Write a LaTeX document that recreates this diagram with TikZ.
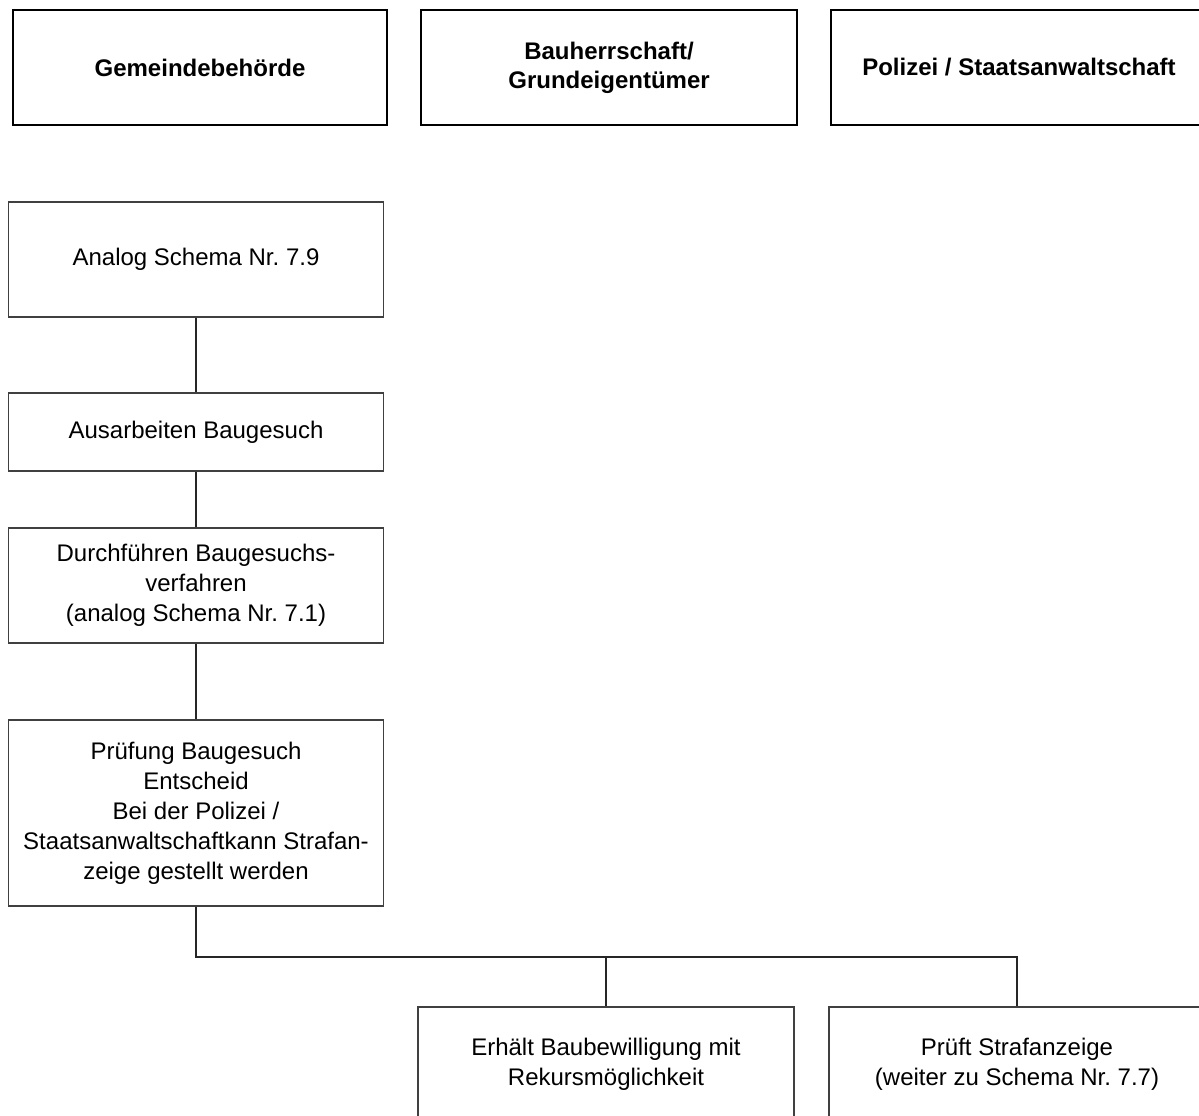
\documentclass[tikz,border=0pt]{standalone}
\usepackage{fontspec}
\setmainfont{Liberation Sans}
\frenchspacing
\begin{document}
\begin{tikzpicture}[x=1pt,y=-1pt,
 hdr/.style={draw=black,line width=2pt,minimum height=115pt,align=center,
   font=\fontsize{24}{29}\selectfont\bfseries,inner sep=0pt},
 stepbox/.style={draw=black!75,line width=1.2pt,minimum width=375pt,align=center,
   font=\fontsize{24}{30}\selectfont,inner sep=0pt},
 conn/.style={draw=black!85,line width=1.2pt}]
\clip (0,0) rectangle (1199,1116);
\fill[white] (0,0) rectangle (1199,1116);
% header
\node[hdr,minimum width=374pt] (h1) at (200,67.5) {Gemeindebehörde};
\node[hdr,minimum width=376pt] (h2) at (609,67.5) {Bauherrschaft/\\Grundeigentümer};
\node[hdr,minimum width=376pt] (h3) at (1019,67.5) {Polizei / Staatsanwaltschaft};
% steps
\node[stepbox,minimum height=115pt] (A) at (196,259.5) {Analog Schema Nr. 7.9};
\node[stepbox,minimum height=78pt] (B) at (196,432) {Ausarbeiten Baugesuch};
\node[stepbox,minimum height=115pt] (C) at (196,585.5) {Durchführen Baugesuchs-\\verfahren\\(analog Schema Nr. 7.1)};
\node[stepbox,minimum height=186pt] (D) at (196,813) {Prüfung Baugesuch\\Entscheid\\Bei der Polizei /\\Staatsanwaltschaftkann Strafan-\\zeige gestellt werden};
\node[stepbox,minimum width=376pt,minimum height=115pt] (E) at (606,1064.5) {Erhält Baubewilligung mit\\Rekursmöglichkeit};
\node[stepbox,minimum width=376pt,minimum height=115pt] (F) at (1017,1064.5) {Prüft Strafanzeige\\(weiter zu Schema Nr. 7.7)};
% connectors
\draw[conn] (A.south) -- (B.north);
\draw[conn] (B.south) -- (C.north);
\draw[conn] (C.south) -- (D.north);
\coordinate (bus) at (196,957);
\draw[conn] (D.south) -- (bus) -- (bus -| F.north) -- (F.north);
\draw[conn] (bus -| E.north) -- (E.north);
\end{tikzpicture}
\end{document}
